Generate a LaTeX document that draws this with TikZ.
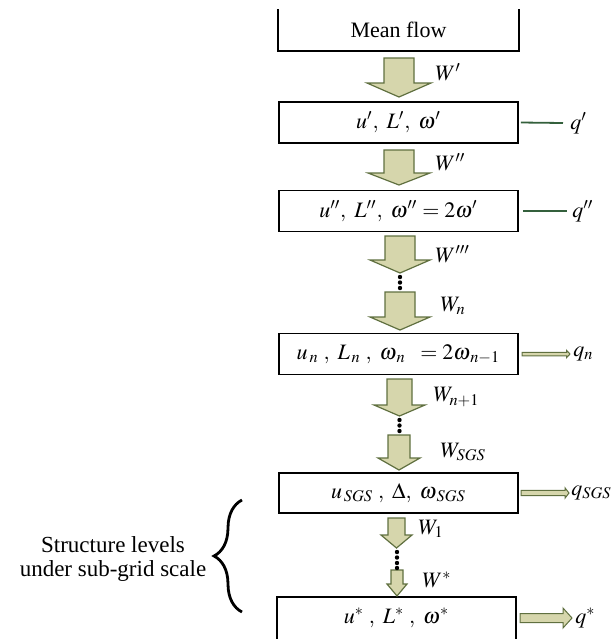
\documentclass[tikz,border=0pt]{standalone}
\usepackage{mathptmx}
\usepackage{fontspec}
\setmainfont{Liberation Serif}
\usetikzlibrary{decorations.pathreplacing}

\definecolor{flowfill}{RGB}{214,214,172}
\definecolor{flowline}{RGB}{96,112,64}
\definecolor{qgreen}{RGB}{52,96,60}

\begin{document}
\begin{tikzpicture}[x=0.5pt,y=-0.5pt,
 every node/.style={font=\fontsize{11}{13}\selectfont},
 level/.style={rectangle,draw,line width=0.9pt,minimum width=119.5pt,minimum height=20.5pt,inner sep=0pt},
 flow/.style={fill=flowfill,draw=flowline,line width=0.6pt,line join=miter},
 qline/.style={draw=qgreen,line width=0.9pt},
 lab/.style={anchor=west,inner sep=0pt}]
\useasboundingbox (0,0) rectangle (616,639);

% structure levels
\node[level,draw=none,minimum height=20pt] (mf) at (398.5,30) {Mean flow};
\draw[line width=0.9pt] (mf.north west) -- (mf.south west) -- (mf.south east) -- (mf.north east);
\node[level] (b1) at (398.5,122.5) {$u^\prime,\ L^\prime,\ \omega^\prime$};
\node[level] (b2) at (398.5,211) {$u^{\prime\prime},\ L^{\prime\prime},\ \omega^{\prime\prime} = 2\omega^\prime$};
\node[level] (b3) at (398.5,354) {$u_{\,n}\;,\ L_{\,n}\;,\ \omega_{\,n}\;\; = 2\omega_{\,n-1}$};
\node[level,minimum height=20pt] (b4) at (398.5,493) {$u_{\,SGS}\;,\ \Delta,\ \omega_{\,SGS}$};
\node[level,draw=none,minimum width=118.5pt,minimum height=20pt] (b5) at (396.5,618) {$u^*\;,\ L^*\;,\ \omega^*$};
\draw[line width=0.9pt] (b5.south west) -- (b5.north west) -- (b5.north east) -- (b5.south east);

% energy transfer
\foreach \c/\t/\h/\e/\s/\w in {399/58/83/97/15/32, 399/150/173/185/15/31, 400/236/260/273/15/30,
  400/292/317/330/15/30, 399.5/379/405/416/12.5/25.5, 399/435/458/470/11/21,
  396.5/518/535/548/8.5/15.5, 397/570/584/596/6/10}
  \draw[flow] (\c-\s,\t) -- (\c+\s,\t) -- (\c+\s,\h) -- (\c+\w,\h) -- (\c,\e) -- (\c-\w,\h) -- (\c-\s,\h) -- cycle;
\foreach \x/\y in {400/277,400/282.5,400/288, 399.5/420,399.5/425.5,399.5/431, 397/552,397/557.5,397/563,397/568}
  \fill (\x,\y) circle[radius=1.1pt];

\node[lab] (w1) at (435,72) {$W^\prime$};
\node[lab] (w2) at (435,162) {$W^{\prime\prime}$};
\node[lab] (w3) at (435,254) {$W^{\prime\prime\prime}$};
\node[lab] (wn) at (440,306) {$W_n$};
\node[lab] (wn1) at (433,397) {$W_{n+1}$};
\node[lab] (wsgs) at (440,452) {$W_{SGS}$};
\node[lab] (wone) at (418,529) {$W_1$};
\node[lab] (wst) at (422,580) {$W^*$};

% dissipation
\node[lab] (q1) at (570,123) {$q^\prime$};
\node[lab] (q2) at (572,211) {$q^{\prime\prime}$};
\node[lab] (qn) at (573,354) {$q_n$};
\node[lab] (qsgs) at (571,493) {$q_{SGS}$};
\node[lab] (qst) at (575,618) {$q^*$};
\draw[qline] ([xshift=1pt]b1.east) -- ([xshift=-3.5pt]q1.west);
\draw[qline] ([xshift=2pt]b2.east) -- ([xshift=-2.5pt]q2.west);
\foreach \y/\a/\h/\e/\s/\w in {354/522/566.5/570/1.75/3.75, 493/521/565/569/2.7/5.2, 618/520/563/572/4.5/10}
  \draw[flow,line width=0.5pt] (\a,\y-\s) -- (\h,\y-\s) -- (\h,\y-\w) -- (\e,\y) -- (\h,\y+\w) -- (\h,\y+\s) -- (\a,\y+\s) -- cycle;

% sub-grid levels
\node[align=center,font=\fontsize{11.5}{12}\selectfont] (sub) at (113,559) {Structure levels\\under sub-grid scale};
\coordinate (brtop) at (242,500);
\coordinate (brbot) at (242,612);
\draw[decorate,decoration={brace,amplitude=14pt},line width=1.4pt] (brbot) -- (brtop);
\end{tikzpicture}
\end{document}
